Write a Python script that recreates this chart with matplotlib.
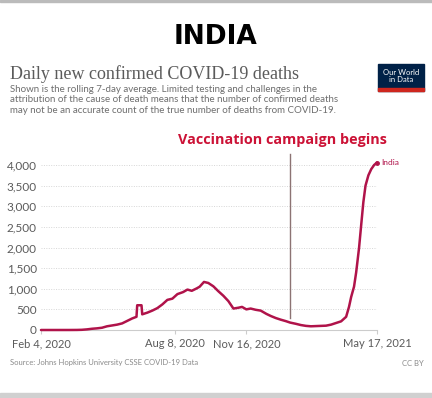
import numpy as np
import pandas as pd
import matplotlib
matplotlib.use("Agg")
import matplotlib.pyplot as plt
from matplotlib.patches import Rectangle

# 7-day average of daily confirmed deaths, India
dates = ["2020-02-04", "2020-03-01", "2020-03-15", "2020-03-25", "2020-04-01",
         "2020-04-08", "2020-04-15", "2020-04-22", "2020-04-29", "2020-05-06",
         "2020-05-13", "2020-05-20", "2020-05-27", "2020-06-03", "2020-06-10",
         "2020-06-16", "2020-06-17", "2020-06-23", "2020-06-24", "2020-07-01",
         "2020-07-08", "2020-07-15", "2020-07-22", "2020-07-29", "2020-08-05",
         "2020-08-12", "2020-08-20", "2020-08-26", "2020-09-01", "2020-09-08",
         "2020-09-12", "2020-09-18", "2020-09-24", "2020-10-01", "2020-10-08",
         "2020-10-15", "2020-10-22", "2020-10-29", "2020-11-05", "2020-11-10",
         "2020-11-16", "2020-11-22", "2020-11-29", "2020-12-06", "2020-12-14",
         "2020-12-20", "2020-12-27", "2021-01-03", "2021-01-10", "2021-01-16",
         "2021-01-24", "2021-01-31", "2021-02-07", "2021-02-14", "2021-02-21",
         "2021-02-28", "2021-03-07", "2021-03-14", "2021-03-21", "2021-03-28",
         "2021-04-04", "2021-04-08", "2021-04-11", "2021-04-15", "2021-04-18",
         "2021-04-22", "2021-04-25", "2021-04-28", "2021-05-01", "2021-05-05",
         "2021-05-09", "2021-05-13", "2021-05-17"]
deaths = [0, 0, 0.3, 1.5, 5,
          15, 30, 40, 55, 90,
          110, 130, 160, 220, 280,
          320, 600, 600, 380, 420,
          470, 530, 620, 730, 760,
          870, 920, 980, 950, 1010,
          1050, 1165, 1140, 1060, 940,
          830, 700, 520, 540, 560,
          500, 520, 490, 470, 390,
          340, 290, 250, 215, 180,
          150, 120, 100, 90, 95,
          100, 105, 130, 170, 210,
          320, 560, 800, 1050, 1400,
          1990, 2550, 3100, 3500, 3750,
          3900, 4000, 4060]

x_ticks = ["2020-02-04", "2020-08-08", "2020-11-16", "2021-05-17"]
x_tick_labels = ["Feb 4, 2020", "Aug 8, 2020", "Nov 16, 2020", "May 17, 2021"]
y_ticks = [0, 500, 1000, 1500, 2000, 2500, 3000, 3500, 4000]
vaccine_date = "2021-01-16"

line_color = "#b0134a"
grey_text = "#5b5b5b"

W, H = 432, 398
fig = plt.figure(figsize=(W / 100, H / 100), dpi=100)
fig.patch.set_facecolor("white")

ax = fig.add_axes([41 / W, 68 / H, 336 / W, 165 / H])
t = pd.to_datetime(dates)
ax.plot(t, deaths, color=line_color, lw=1.8, solid_capstyle="round",
        solid_joinstyle="round", clip_on=False, zorder=3)
ax.plot(t[-1], deaths[-1], "o", color=line_color, ms=2.5, clip_on=False, zorder=3)

ax.set_xlim(pd.Timestamp(x_ticks[0]), pd.Timestamp(x_ticks[-1]))
ax.set_ylim(0, 4000)
ax.set_yticks(y_ticks)
ax.set_yticklabels([f"{v:,}" for v in y_ticks])
ax.set_xticks(pd.to_datetime(x_ticks))
ax.set_xticklabels(x_tick_labels)
ax.yaxis.grid(True, linestyle=(0, (1, 1.5)), color="#d6d6d6", lw=0.7)
ax.set_axisbelow(True)
for s in ["top", "right", "left"]:
    ax.spines[s].set_visible(False)
ax.spines["bottom"].set_color("#cccccc")
ax.tick_params(axis="y", length=0, pad=3, labelsize=8.5, labelcolor=grey_text)
ax.tick_params(axis="x", length=3, color="#cccccc", pad=3, labelsize=8, labelcolor=grey_text)
for lab in ax.get_xticklabels() + ax.get_yticklabels():
    lab.set_family("Lato")

# vaccination marker
vd = pd.Timestamp(vaccine_date)
ax.plot([vd, vd], [deaths[dates.index(vaccine_date)] + 100, 4270], color="#8c7373",
        lw=1.0, clip_on=False, zorder=2)
ax.text(pd.Timestamp("2021-05-23"), 4060, "India", color=line_color, fontsize=6,
        family="Lato", va="center", ha="left")

# header texts
fig.text(216 / W, 1 - 37 / H, "INDIA", ha="center", va="center",
         fontsize=19, fontweight="bold", family="DejaVu Sans", color="black")
fig.text(10 / W, 1 - 74 / H, "Daily new confirmed COVID-19 deaths", ha="left",
         va="center", fontsize=13, family="Liberation Serif", color=grey_text)
subtitle = ("Shown is the rolling 7-day average. Limited testing and challenges in the\n"
            "attribution of the cause of death means that the number of confirmed deaths\n"
            "may not be an accurate count of the true number of deaths from COVID-19.")
fig.text(10 / W, 1 - 85 / H, subtitle, ha="left", va="top", fontsize=7,
         family="Lato", color="#6e6e6e", linespacing=1.18)

# OWID logo
fig.patches.append(Rectangle((378 / W, 1 - 91 / H), 46 / W, 27 / H,
                             transform=fig.transFigure, color="#002147", zorder=1))
fig.patches.append(Rectangle((378 / W, 1 - 91 / H), 46 / W, 3 / H,
                             transform=fig.transFigure, color="#ce261e", zorder=2))
fig.text(401 / W, 1 - 76 / H, "Our World\nin Data", ha="center", va="center",
         fontsize=5.5, family="Lato", color="white", linespacing=1.0, zorder=3)

fig.text(178 / W, 1 - 140 / H, "Vaccination campaign begins", ha="left", va="center",
         fontsize=10.4, fontweight="bold", family="Open Sans", color="#cc1236")

fig.text(10 / W, 1 - 363 / H, "Source: Johns Hopkins University CSSE COVID-19 Data",
         ha="left", va="center", fontsize=5.5, family="Lato", color="#8a8a8a")
fig.text(424 / W, 1 - 363 / H, "CC BY", ha="right", va="center", fontsize=5.5,
         family="Lato", color="#8a8a8a")

# frame lines of the screenshot
fig.patches.append(Rectangle((0, 1 - 2 / H), 1, 1.5 / H, transform=fig.transFigure,
                             color="#bbbbbb"))
fig.patches.append(Rectangle((0, 0), 1, 5 / H, transform=fig.transFigure,
                             color="#d0d0d0"))

fig.savefig("out.png", dpi=100)
